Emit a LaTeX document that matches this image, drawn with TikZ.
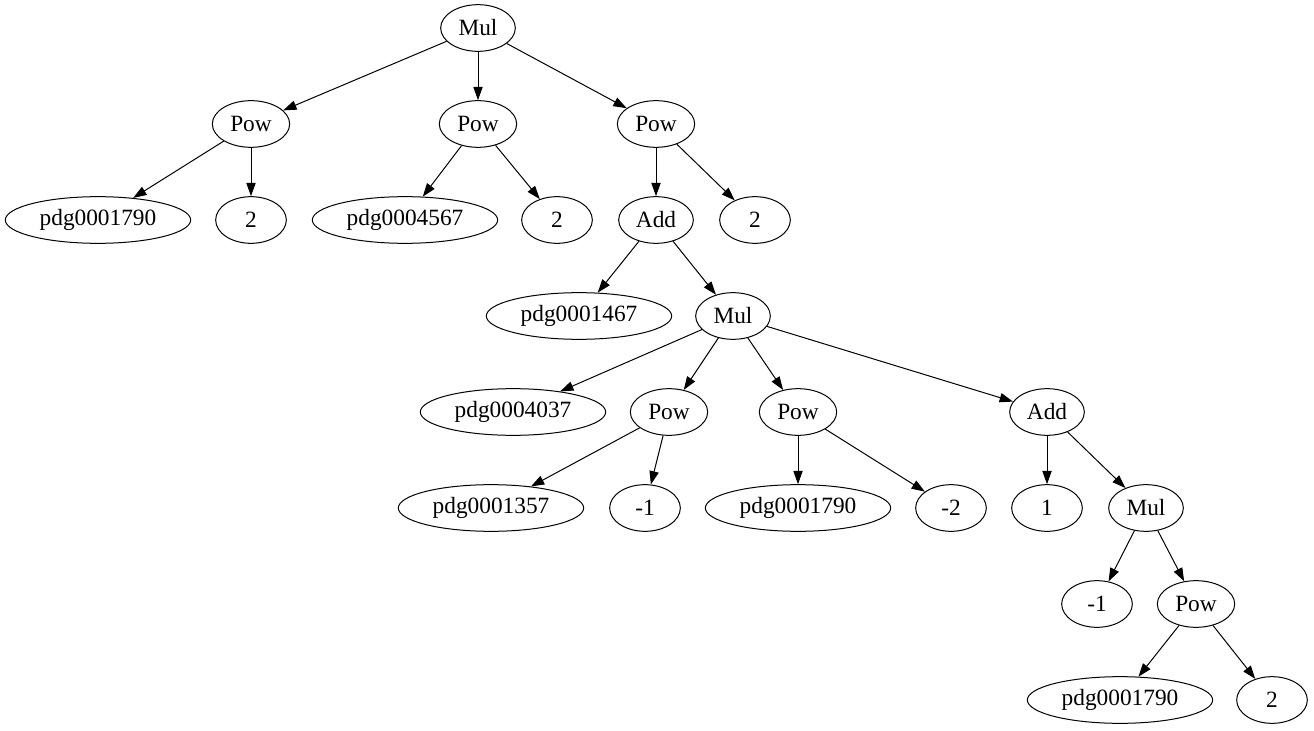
\documentclass[tikz,border=0pt]{standalone}
\usepackage{fontspec}
\setmainfont{Liberation Serif}
\usetikzlibrary{shapes.geometric,arrows.meta}
\begin{document}
\begin{tikzpicture}[x=0.75pt,y=-0.75pt,
  el/.style={ellipse,draw,line width=0.75pt,minimum height=35pt,inner sep=0pt,font=\fontsize{17.5pt}{20pt}\selectfont},
  sm/.style={el,minimum width=53pt},
  op/.style={el,minimum width=58pt},
  md/.style={el,minimum width=56pt},
  lg/.style={el,minimum width=139pt},
  ed/.style={-{Triangle[length=10pt,width=7pt]},line width=0.75pt}]
\useasboundingbox (0,0) rectangle (1314,731);
\node[md] (m0) at (478,28) {Mul};
\node[op] (p1) at (251,124) {Pow};
\node[op] (p2) at (478,124) {Pow};
\node[op] (p3) at (656,124) {Pow};
\node[lg] (a1) at (98,220) {pdg0001790};
\node[sm] (a2) at (251,220) {2};
\node[lg] (b1) at (405,220) {pdg0004567};
\node[sm] (b2) at (557,220) {2};
\node[md] (ad1) at (656,220) {Add};
\node[sm] (c2) at (755,220) {2};
\node[lg] (d1) at (579,316) {pdg0001467};
\node[md] (m1) at (733,316) {Mul};
\node[lg] (e1) at (513,412) {pdg0004037};
\node[op] (p4) at (669,412) {Pow};
\node[op] (p5) at (798,412) {Pow};
\node[md] (ad2) at (1047,412) {Add};
\node[lg] (f1) at (491,508) {pdg0001357};
\node[sm] (f2) at (645,508) {-1};
\node[lg] (g1) at (798,508) {pdg0001790};
\node[sm] (g2) at (951,508) {-2};
\node[sm] (h1) at (1047,508) {1};
\node[md] (m2) at (1146,508) {Mul};
\node[sm] (i1) at (1097,604) {-1};
\node[op] (p6) at (1196,604) {Pow};
\node[lg] (j1) at (1120,700) {pdg0001790};
\node[sm] (j2) at (1272,700) {2};
\foreach \a/\b in {m0/p1,m0/p2,m0/p3,p1/a1,p1/a2,p2/b1,p2/b2,p3/ad1,p3/c2,ad1/d1,ad1/m1,m1/e1,m1/p4,m1/p5,m1/ad2,p4/f1,p4/f2,p5/g1,p5/g2,ad2/h1,ad2/m2,m2/i1,m2/p6,p6/j1,p6/j2}
  \draw[ed] (\a) -- (\b);
\end{tikzpicture}
\end{document}
